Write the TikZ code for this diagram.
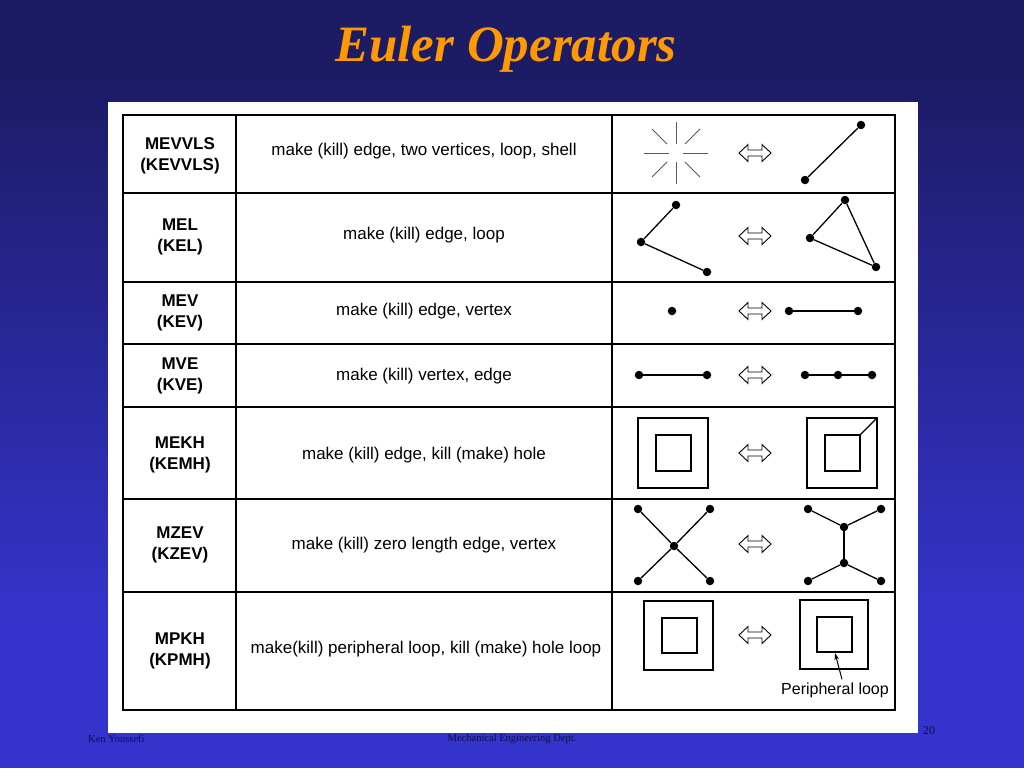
\documentclass[tikz,border=0pt]{standalone}
\usepackage{fontspec}
\setmainfont{Liberation Serif}
\setsansfont{Liberation Sans}
\usetikzlibrary{arrows.meta}
\definecolor{bgtop}{RGB}{28,27,100}
\definecolor{bgbot}{RGB}{52,52,204}
\definecolor{titleor}{RGB}{255,153,0}
\definecolor{foot}{RGB}{15,15,70}
\begin{document}
\begin{tikzpicture}[x=1pt,y=-1pt,
  lbl/.style={font=\sffamily\bfseries\fontsize{17}{21}\selectfont, align=center, inner sep=0},
  desc/.style={font=\sffamily\fontsize{17}{20}\selectfont, inner sep=0},
  dot/.style={circle, fill=black, inner sep=0, minimum size=8.5pt},
  ln/.style={line width=1.3pt},
  ray/.style={line width=1pt, black!65},
  sq/.style={draw, line width=1.2pt},
  tline/.style={line width=1.5pt},
  dbl/.pic={\draw[line width=0.9pt, fill=white] (-16,0) -- (-7,-8.5) -- (-7,-3) -- (7,-3) -- (7,-8.5) -- (16,0) -- (7,8.5) -- (7,3) -- (-7,3) -- (-7,8.5) -- cycle;}
]
\useasboundingbox (0,0) rectangle (1024,768);
% background
\fill[bgbot] (0,0) rectangle (1024,768);
\fill[bgtop] (0,0) rectangle (1024,70);
\shade[top color=bgtop, bottom color=bgbot] (0,69) rectangle (1024,620);
% title
\node[font=\fontsize{51}{56}\selectfont\bfseries\itshape, text=titleor, anchor=base] (title) at (506,62) {Euler Operators};
% white panel
\fill[white] (108,102) rectangle (918,733);
% table
\draw[line width=2.8pt] (123,115) rectangle (895,710);
\draw[line width=2.2pt] (236,115) -- (236,710);
\draw[line width=2.2pt] (612,115) -- (612,710);
\foreach \yy in {193,282,344,407,499,592} \draw[tline] (123,\yy) -- (895,\yy);
% labels
\node[lbl] (l1) at (180,156) {MEVVLS\\(KEVVLS)};
\node[lbl] (l2) at (180,237) {MEL\\(KEL)};
\node[lbl] (l3) at (180,313) {MEV\\(KEV)};
\node[lbl] (l4) at (180,376) {MVE\\(KVE)};
\node[lbl] (l5) at (180,455) {MEKH\\(KEMH)};
\node[lbl] (l6) at (180,545) {MZEV\\(KZEV)};
\node[lbl] (l7) at (180,651) {MPKH\\(KPMH)};
% descriptions
\node[desc] (d1) at (424,151) {make (kill) edge, two vertices, loop, shell};
\node[desc] (d2) at (424,235) {make (kill) edge, loop};
\node[desc] (d3) at (424,311) {make (kill) edge, vertex};
\node[desc] (d4) at (424,376) {make (kill) vertex, edge};
\node[desc] (d5) at (424,455) {make (kill) edge, kill (make) hole};
\node[desc] (d6) at (424,545) {make (kill) zero length edge, vertex};
\node[desc] (d7) at (426,649) {make(kill) peripheral loop, kill (make) hole loop};
% arrows
\foreach \yy in {153,236,311,375,453,544,635} \pic at (755,\yy) {dbl};
% row 1
\coordinate (sb) at (676,153);
\draw[ray] (676,122) -- (676,144);
\draw[ray] (676,162) -- (676,184);
\draw[ray] (644,153) -- (669,153);
\draw[ray] (683,153) -- (708,153);
\draw[ray] (652,129) -- (667,144);
\draw[ray] (700,129) -- (685,144);
\draw[ray] (652,177) -- (667,162);
\draw[ray] (700,177) -- (685,162);
\node[dot] (a1) at (805,180) {};
\node[dot] (a2) at (861,125) {};
\draw[ln] (a1) -- (a2);
% row 2
\node[dot] (b1) at (676,205) {};
\node[dot] (b2) at (641,242) {};
\node[dot] (b3) at (707,272) {};
\draw[ln] (b1) -- (b2) -- (b3);
\node[dot] (c1) at (845,200) {};
\node[dot] (c2) at (810,238) {};
\node[dot] (c3) at (876,267) {};
\draw[ln] (c1) -- (c2) -- (c3) -- (c1);
% row 3
\node[dot] (e1) at (672,311) {};
\node[dot] (e2) at (789,311) {};
\node[dot] (e3) at (858,311) {};
\draw[ln] (e2) -- (e3);
% row 4
\node[dot] (f1) at (639,375) {};
\node[dot] (f2) at (707,375) {};
\draw[ln] (f1) -- (f2);
\node[dot] (g1) at (805,375) {};
\node[dot] (g2) at (838,375) {};
\node[dot] (g3) at (872,375) {};
\draw[ln] (g1) -- (g2) -- (g3);
% row 5
\draw[sq] (638,418) rectangle (708,488);
\draw[sq] (656,435) rectangle (691,471);
\draw[sq] (807,418) rectangle (877,488);
\draw[sq] (825,435) rectangle (860,471);
\coordinate (hi) at (860,435);
\coordinate (ho) at (877,418);
\draw[ln] (hi) -- (ho);
% row 6
\node[dot] (x0) at (674,546) {};
\node[dot] (x1) at (638,509) {};
\node[dot] (x2) at (710,509) {};
\node[dot] (x3) at (638,581) {};
\node[dot] (x4) at (710,581) {};
\draw[ln] (x1) -- (x0) -- (x4);
\draw[ln] (x2) -- (x0) -- (x3);
\node[dot] (y0) at (844,527) {};
\node[dot] (y5) at (844,563) {};
\node[dot] (y1) at (808,509) {};
\node[dot] (y2) at (881,509) {};
\node[dot] (y3) at (808,581) {};
\node[dot] (y4) at (881,581) {};
\draw[ln] (y1) -- (y0) -- (y2);
\draw[ln] (y0) -- (y5);
\draw[ln] (y3) -- (y5) -- (y4);
% row 7
\draw[sq] (644,601) rectangle (713,670);
\draw[sq] (662,618) rectangle (697,653);
\draw[sq] (800,600) rectangle (868,669);
\draw[sq, line width=1.5pt] (817,617) rectangle (852,652);
\node[font=\sffamily\fontsize{16}{18}\selectfont, inner sep=0] (plabel) at (835,690) {Peripheral loop};
\coordinate (pl) at (835,653);
\draw[line width=1pt, -{Stealth[length=7pt,width=4.5pt]}] ([xshift=7pt, yshift=3pt]plabel.north) -- (pl);
% footer
\node[font=\fontsize{10.5}{12}\selectfont, text=foot, anchor=west, inner sep=0] (f1t) at (88,739) {Ken Youssefi};
\node[font=\fontsize{10.5}{12}\selectfont, text=foot, inner sep=0] (f2t) at (512,739) {Mechanical Engineering Dept.};
\node[font=\fontsize{12}{14}\selectfont, text=foot, inner sep=0] (f3t) at (929,731) {20};
\end{tikzpicture}
\end{document}
